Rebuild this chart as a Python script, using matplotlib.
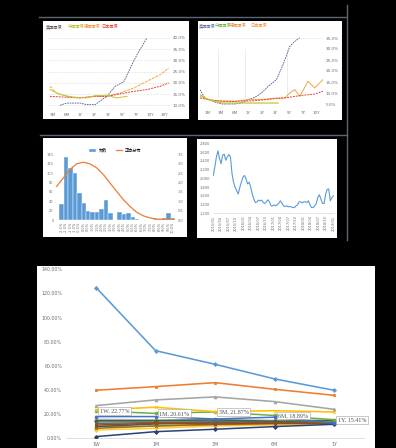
import matplotlib
matplotlib.use("Agg")
import matplotlib.pyplot as plt
from matplotlib.patches import Rectangle
from matplotlib.lines import Line2D

plt.rcParams['font.family'] = ['DejaVu Sans', 'Noto Sans CJK SC']

# ---------------- data ----------------
# top-left panel (term structure)
tl_labels = ["3M", "6M", "1Y", "2Y", "3Y", "5Y", "7Y", "10Y", "30Y"]
tl_yticks = [10, 15, 20, 25, 30, 35, 40]
tl_blue_x = [0.53, 1.0, 1.96, 2.44, 3.04, 3.88, 4.48, 5.08, 5.56, 6.04, 6.75]
tl_blue_y = [10.0, 11.0, 11.0, 10.3, 10.3, 14.0, 18.5, 20.4, 26.6, 32.6, 40.0]
tl_orange_x = [-0.19, 0.29, 1.0, 1.96, 3.04, 3.88, 4.84, 5.8, 6.75, 7.71, 8.31]
tl_orange_y = [18.5, 15.5, 14.0, 13.3, 14.0, 14.0, 15.5, 17.7, 20.7, 23.7, 26.6]
tl_red_x = [-0.19, 1.0, 1.96, 3.04, 3.88, 4.84, 5.8, 6.75, 7.71, 8.31]
tl_red_y = [14.0, 13.6, 13.3, 14.0, 14.0, 15.1, 16.2, 17.0, 18.5, 20.0]
tl_yel_x = [-0.19, 0.53, 1.49, 2.44, 3.04, 3.88, 4.6, 5.32]
tl_yel_y = [17.0, 14.8, 13.6, 13.3, 14.3, 14.5, 13.3, 14.0]
tl_legend = ["美国国债", "中国国债", "德国国债", "日本国债"]

# top-right panel
tr_labels = ["1M", "3M", "6M", "1Y", "2Y", "3Y", "5Y", "7Y", "10Y"]
tr_yticks = [5, 10, 15, 20, 25, 30, 35]
tr_blue_x = [-0.56, -0.2, 0.54, 1.03, 2.0, 2.49, 2.98, 3.47, 3.96, 4.45, 5.06, 5.55, 6.04, 6.41, 6.77]
tr_blue_y = [11.5, 7.7, 5.9, 5.0, 5.0, 5.45, 7.0, 8.0, 10.0, 13.0, 16.1, 22.9, 31.2, 33.5, 35.0]
tr_orange_x = [-0.56, 0.05, 1.03, 2.0, 2.98, 3.96, 4.94, 5.67, 6.04, 6.41, 6.77, 7.38, 7.87, 8.48]
tr_orange_y = [8.5, 7.0, 6.2, 6.2, 7.0, 7.0, 7.7, 7.7, 10.0, 11.5, 8.5, 15.3, 12.3, 16.1]
tr_red_x = [-0.56, 0.54, 2.0, 3.47, 4.94, 5.92, 6.9, 7.87, 8.48]
tr_red_y = [7.7, 6.5, 6.2, 6.5, 7.4, 8.0, 8.9, 9.5, 10.8]
tr_yel_x = [-0.56, 0.05, 1.03, 2.0, 2.98, 3.96, 5.18]
tr_yel_y = [9.2, 7.0, 5.45, 5.45, 5.45, 5.45, 5.45]
tr_legend = ["美国国债", "中国国债", "德国国债", "日本国债"]

# bottom-left histogram
hist_counts = [34, 134, 111, 100, 57, 36, 19, 18, 18, 24, 43, 14, 0,
               16, 12, 14, 7, 2, 1, 0, 1, 2, 2, 4, 14, 4]
hist_labels = ["-2.5%", "-2.0%", "-1.5%", "-1.0%", "-0.5%", "0.0%", "0.5%", "1.0%",
               "1.5%", "2.0%", "2.5%", "3.0%", "3.5%", "4.0%", "4.5%", "5.0%",
               "5.5%", "6.0%", "6.5%", "7.0%", "7.5%", "8.0%", "8.5%", "9.0%",
               "9.5%", "10.0%"]
curve_x = [-1.08, 0.41, 1.9, 3.4, 4.9, 6.4, 7.9, 9.4, 10.9, 12.4, 13.9, 15.4,
           16.9, 18.4, 19.9, 21.4, 22.9, 25.1]
curve_y = [1.79, 2.24, 2.69, 2.99, 3.08, 2.99, 2.78, 2.42, 1.97, 1.52, 1.08, 0.72,
           0.41, 0.22, 0.11, 0.05, 0.04, 0.04]

# bottom-right line
br_values = [2.065, 2.258, 2.489, 2.628, 2.451, 2.335, 2.528, 2.551, 2.412, 2.489,
             2.543, 2.489, 2.103, 1.910, 1.794, 1.717, 1.640, 1.794, 1.910, 2.026,
             2.065, 1.987, 1.872, 1.910, 1.794, 1.640, 1.524, 1.447, 1.462, 1.501,
             1.486, 1.501, 1.447, 1.424, 1.462, 1.509, 1.462, 1.370, 1.370, 1.393,
             1.370, 1.393, 1.432, 1.486, 1.432, 1.370, 1.354, 1.370, 1.347, 1.354,
             1.347, 1.331, 1.331, 1.370, 1.393, 1.462, 1.462, 1.439, 1.462, 1.462,
             1.447, 1.486, 1.393, 1.331, 1.331, 1.370, 1.424, 1.563, 1.625, 1.524,
             1.424, 1.424, 1.640, 1.748, 1.756, 1.486, 1.563, 1.601]
br_yticks = [1.2, 1.4, 1.6, 1.8, 2.0, 2.2, 2.4, 2.6, 2.8]
br_xlabels = ["2015/01", "2015/04", "2015/07", "2015/10", "2016/01", "2016/04",
              "2016/07", "2016/10", "2017/01", "2017/04", "2017/07", "2017/10",
              "2018/01", "2018/04", "2018/07", "2018/10", "2019/01"]

# main chart
main_cats = ["1W", "1M", "3M", "6M", "1Y"]
main_yticks = [0, 20, 40, 60, 80, 100, 120, 140]
s01 = [124.9, 72.6, 61.3, 49.2, 39.8]
s02 = [39.8, 42.8, 46.1, 40.6, 35.6]
s03 = [27.1, 31.8, 34.3, 30.4, 24.0]
s04 = [23.5, 25.7, 22.1, 22.9, 21.8]
s05 = [18.0, 18.0, 16.0, 17.5, 12.5]
s06 = [22.77, 20.61, 21.87, 18.89, 15.41]
s07 = [1.4, 5.5, 7.5, 9.7, 11.6]
s08 = [11.0, 12.4, 11.9, 12.4, 12.4]
s09 = [12.4, 13.0, 13.5, 13.0, 13.0]
s10 = [8.3, 10.2, 11.6, 12.4, 12.4]
s11 = [9.7, 11.9, 13.0, 13.3, 12.4]
s12 = [14.6, 14.6, 15.2, 14.1, 14.6]
s13 = [13.8, 14.4, 14.1, 13.8, 13.3]
s14 = [9.7, 10.2, 11.0, 11.9, 12.4]
s15 = [15.7, 15.2, 15.5, 14.9, 15.2]
s16 = [6.9, 8.3, 10.2, 11.0, 11.9]

# ---------------- helpers ----------------
W, H = 396, 448
fig = plt.figure(figsize=(W / 100, H / 100), dpi=100, facecolor='black')


def ax_px(x0, y0, x1, y1):
    a = fig.add_axes([x0 / W, 1 - y1 / H, (x1 - x0) / W, (y1 - y0) / H])
    a.set_facecolor('none')
    return a


def rect_px(x0, y0, x1, y1, color='white'):
    fig.add_artist(Rectangle((x0 / W, 1 - y1 / H), (x1 - x0) / W, (y1 - y0) / H,
                             transform=fig.transFigure, facecolor=color,
                             edgecolor='none', zorder=-5))


def line_px(x0, y0, x1, y1, color='#5c6672', lw=1.0):
    fig.add_artist(Line2D([x0 / W, x1 / W], [1 - y0 / H, 1 - y1 / H],
                          transform=fig.transFigure, color=color, lw=lw, zorder=-4))


def fig_text_px(x, y, s, color, size=3):
    fig.text(x / W, 1 - y / H, s, color=color, fontsize=size, va='center', ha='left',
             family=['Noto Sans CJK SC', 'DejaVu Sans'])


# separator lines
line_px(39, 16.7, 347, 16.7)
line_px(40, 135, 347, 135)
line_px(347, 5, 347, 240)

TXT = '#6f6f6f'

# ---------------- top-left ----------------
rect_px(43, 21, 189, 119)
ax = ax_px(48.4, 33.5, 170, 109.8)
ax.plot(tl_blue_x, tl_blue_y, color='#4d5a8c', lw=0.6, ls=(0, (2, 1)))
ax.plot(tl_orange_x, tl_orange_y, color='#f5a442', lw=0.7, ls=(0, (3, 1)))
ax.plot(tl_red_x, tl_red_y, color='#e0442e', lw=0.7, ls=(0, (2, 1)))
ax.plot(tl_yel_x, tl_yel_y, color='#c9c23a', lw=0.7)
ax.set_xlim(-0.3, 8.4)
ax.set_ylim(8, 42)
ax.yaxis.tick_right()
ax.set_yticks(tl_yticks)
ax.set_yticklabels([f"{v:.1f}%" for v in tl_yticks])
ax.set_xticks(range(len(tl_labels)))
ax.set_xticklabels(tl_labels)
ax.tick_params(length=0, labelsize=3, colors=TXT, pad=2)
ax.grid(axis='y', color='#d0d0d0', lw=0.4, ls=(0, (2, 2)))
for s in ax.spines.values():
    s.set_visible(False)
for (x, s, c) in zip([46, 68, 84, 101], tl_legend, ['#555555', '#b8b830', '#f0903a', '#e0442e']):
    fig_text_px(x, 27, s, c, 3)

# ---------------- top-right ----------------
rect_px(198, 21, 342, 120)
ax = ax_px(200, 33.6, 323, 108.4)
for xv in [0.76, 2.74, 5.8]:
    ax.axvline(xv, ymin=0.15, ymax=0.8, color='#dddddd', lw=0.4)
ax.plot(tr_blue_x, tr_blue_y, color='#4d5a8c', lw=0.6, ls=(0, (2, 1)))
ax.plot(tr_orange_x, tr_orange_y, color='#f5a442', lw=0.7)
ax.plot(tr_red_x, tr_red_y, color='#e0442e', lw=0.7, ls=(0, (2, 1)))
ax.plot(tr_yel_x, tr_yel_y, color='#c9c23a', lw=0.9)
ax.set_xlim(-0.56, 8.48)
ax.set_ylim(3, 37)
ax.yaxis.tick_right()
ax.set_yticks(tr_yticks)
ax.set_yticklabels([f"{v:.1f}%" for v in tr_yticks])
ax.set_xticks(range(len(tr_labels)))
ax.set_xticklabels(tr_labels)
ax.tick_params(length=0, labelsize=3, colors=TXT, pad=2)
ax.axhline(35, color='#d0d0d0', lw=0.4, ls=(0, (2, 2)))
for s in ax.spines.values():
    s.set_visible(False)
for (x, s, c) in zip([199, 215, 230, 250], tr_legend, ['#5a6aa0', '#70b040', '#f0903a', '#f0903a']):
    fig_text_px(x, 26, s, c, 3)

# ---------------- bottom-left ----------------
rect_px(43, 138, 187, 237)
ax = ax_px(55.7, 149.6, 175.5, 220)
bars = ax.bar(range(len(hist_counts)), hist_counts, width=1.0, color='#5b9bd5',
              edgecolor='white', lw=0.3, label='频数')
ax.set_xlim(-1.3, 25.6)
ax.set_ylim(0, 150)
ax.set_yticks([0, 20, 40, 60, 80, 100, 120, 140])
ax.set_xticks(range(len(hist_labels)))
ax.set_xticklabels(hist_labels, rotation=90)
ax.tick_params(length=0, labelsize=2.5, colors=TXT, pad=1.5)
for s in ax.spines.values():
    s.set_visible(False)
ax2 = ax.twinx()
ax2.set_facecolor('none')
ln, = ax2.plot(curve_x, curve_y, color='#ed7d31', lw=0.9, label='正态分布')
ax2.set_ylim(0, 3.75)
ax2.set_yticks([0, 0.5, 1, 1.5, 2, 2.5, 3, 3.5])
ax2.tick_params(length=0, labelsize=2.5, colors=TXT, pad=1.5)
for s in ax2.spines.values():
    s.set_visible(False)
ax.legend([bars, ln], ['频数', '正态分布'], loc='upper center', bbox_to_anchor=(0.5, 1.07),
          ncol=2, frameon=False, handlelength=1.5, handleheight=0.6,
          prop={'family': ['Noto Sans CJK SC', 'DejaVu Sans'], 'size': 3})

# ---------------- bottom-right ----------------
rect_px(197, 139, 337, 238)
ax = ax_px(212.5, 143.3, 334.2, 213.3)
ax.plot(range(len(br_values)), br_values, color='#5b9bd5', lw=0.8)
ax.set_xlim(-0.5, len(br_values) - 0.5)
ax.set_ylim(1.2, 2.8)
ax.set_yticks(br_yticks)
ax.set_yticklabels([f"{v:.3f}" for v in br_yticks])
xt = [i * (len(br_values) - 1) / (len(br_xlabels) - 1) for i in range(len(br_xlabels))]
ax.set_xticks(xt)
ax.set_xticklabels(br_xlabels, rotation=90)
ax.tick_params(length=0, labelsize=2.6, colors=TXT, pad=1.5)
for k, s in ax.spines.items():
    s.set_visible(k == 'bottom')
ax.spines['bottom'].set_color('#d9d9d9')
ax.spines['bottom'].set_linewidth(0.5)

# ---------------- main chart ----------------
rect_px(37, 266, 375, 448)
ax = ax_px(66.3, 269.3, 363.8, 438.3)
series = [s01, s02, s03, s04, s05, s06, s07, s08, s09, s10, s11, s12, s13, s14, s15, s16]
colors = ['#5b9bd5', '#ed7d31', '#a5a5a5', '#ffc000', '#4472c4', '#70ad47',
          '#264478', '#9e480e', '#636363', '#997300', '#255e91', '#43682b',
          '#698ed0', '#f1975a', '#b7b7b7', '#ffcd33']
markers = ['D', 's', '^', 'x', 'o', 'o', 'D', 's', '^', 'x', 'o', 'D', 's', '^', 'o', 'D']
order = list(range(len(series)))[::-1]
xs = list(range(len(main_cats)))
for i in order:
    lw = 1.15 if i < 4 else 1.1
    ax.plot(xs, series[i], color=colors[i], lw=lw, marker=markers[i], ms=2.0,
            mew=0.6, zorder=4 if i <= 3 else 3 + (16 - i) * 0.01)
for xi, v, cat in zip(xs, s06, main_cats):
    ax.annotate(f"{cat}, {v:.2f}%", (xi, v), xytext=(2.5, 0), textcoords='offset points',
                ha='left', va='center', fontsize=4.3, family='Liberation Serif',
                color='#505050', zorder=6,
                bbox=dict(boxstyle='square,pad=0.25', fc='white', ec='#a0a0a0', lw=0.4))
ax.set_xlim(-0.5, 4.5)
ax.set_ylim(0, 140)
ax.set_yticks(main_yticks)
ax.set_yticklabels([f"{v:.2f}%" for v in main_yticks])
ax.set_xticks(xs)
ax.set_xticklabels(main_cats)
ax.tick_params(length=0, labelsize=3.4, colors=TXT, pad=3)
for k, s in ax.spines.items():
    s.set_visible(k == 'bottom')
ax.spines['bottom'].set_color('#d9d9d9')
ax.spines['bottom'].set_linewidth(0.6)

fig.savefig('out.png', dpi=100, facecolor='black')
